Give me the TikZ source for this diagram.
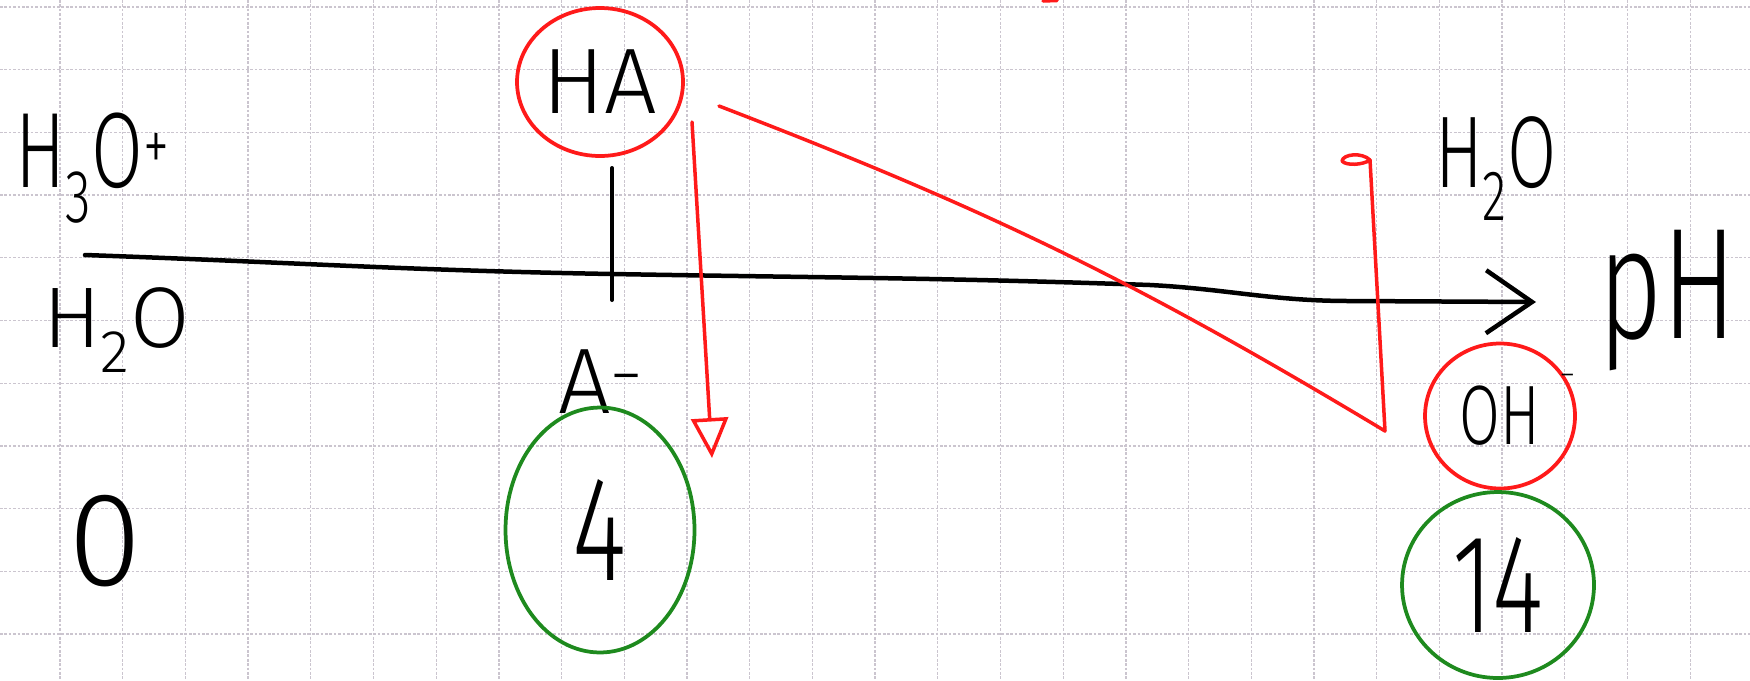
\documentclass[tikz,border=0pt]{standalone}
\usepackage{fontspec}
\setmainfont{Fira Sans Light}
\newfontfamily\narrowhand{Fira Sans Light}[FakeStretch=0.7]
\usetikzlibrary{arrows.meta,shapes.geometric}
\definecolor{InkRed}{HTML}{FF1A1A}
\definecolor{InkGreen}{HTML}{1E8A1E}
\definecolor{GridLine}{HTML}{CBC5CF}
\newcommand{\hand}[1]{\fontsize{#1}{#1}\selectfont}

\begin{document}
\begin{tikzpicture}[
    x=0.02cm, y=-0.02cm,
    ink/.style={line width=0.08cm, line cap=round, line join=round},
    chem/.style={inner sep=0pt, outer sep=0pt},
    redring/.style={ellipse, draw=InkRed, line width=0.075cm, inner sep=0pt},
    greenring/.style={ellipse, draw=InkGreen, line width=0.075cm, inner sep=0pt},
    redarrow/.style={ink, InkRed, line width=0.07cm},
    gridline/.style={draw=GridLine, line width=0.75pt, dash pattern=on 1.5pt off 1pt}
  ]
  \fill[white] (0,0) rectangle (1750,680);
  \useasboundingbox (0,0) rectangle (1750,680);

  % squared paper
  \foreach \k in {0,...,26}
    \draw[gridline] ({60+62.7*\k},0) -- ({60+62.7*\k},680);
  \foreach \k in {0,...,10}
    \draw[gridline] (0,{7+62.7*\k}) -- (1750,{7+62.7*\k});

  % left end of the scale
  \node[chem, anchor=base west, font={\narrowhand\hand{61}}] (hydronium) at (15,187) {H\textsubscript{3}O\textsuperscript{+}};
  \node[chem, anchor=base west, font={\hand{49}}] (wateracid) at (43,347) {H\textsubscript{2}O};
  \node[chem, font={\hand{76}}] (zero) at (105,541) {0};

  % the acid pair
  \node[redring, minimum width=3.32cm, minimum height=2.96cm, font={\hand{53}}] (acid) at (600,82) {HA};
  \node[chem, anchor=base west, font={\hand{53}}] (base) at (558,413) {A\textsuperscript{−}};
  \node[greenring, minimum width=3.78cm, minimum height=4.9cm, font={\narrowhand\hand{85}}] (pka) at (600,530) {4};

  % right end of the scale
  \node[chem, anchor=base west, font={\narrowhand\hand{58}}] (waterbase) at (1435,187) {H\textsubscript{2}O};
  \node[redring, minimum width=3.0cm, minimum height=2.9cm, font={\narrowhand\hand{48}},
        label={[chem, anchor=center, font={\hand{18}}]28:−}] (hydroxide) at (1500,416) {OH};
  \node[greenring, minimum width=3.84cm, minimum height=3.72cm, font={\narrowhand\hand{80}}] (pkw) at (1498,585) {14};
  \node[chem, anchor=base west, font={\narrowhand\hand{90}}] (ph) at (1598,338) {pH};

  % axis
  \coordinate (axstart) at (85,255);
  \coordinate (axtick) at (612,274);
  \coordinate (axdip) at (1150,285);
  \coordinate (axflat) at (1350,301);
  \coordinate (axend) at (1536,302);
  \coordinate (tickup) at (612,168);
  \coordinate (tickdown) at (612,300);
  \draw[ink, line width=0.09cm, -{Straight Barb[length=0.92cm, width=1.26cm]}]
    (axstart) to[out=-2,in=179] (axtick) to[out=-1,in=178] (axdip)
    to[out=-3,in=180] (axflat) -- (axend);
  \draw[ink] (tickup) -- (tickdown);

  % red arrows
  \coordinate (dropstart) at (692,122);
  \coordinate (droptip) at (712,458);
  \coordinate (diagstart) at (719,106);
  \coordinate (diagturn) at (1385,431);
  \coordinate (diagend) at (1370,160);
  \draw[redarrow, -{Triangle[open, length=0.8cm, width=0.74cm]}] (dropstart) -- (droptip);
  \draw[redarrow] (diagstart) to[bend left=5] (diagturn) -- (diagend);
  \draw[redarrow] (diagend) .. controls (1362,152) and (1343,154) .. (1342,161)
    .. controls (1346,166) and (1363,165) .. (diagend);
  \draw[redarrow] (1043,1) -- (1057,0.5);
\end{tikzpicture}
\end{document}
